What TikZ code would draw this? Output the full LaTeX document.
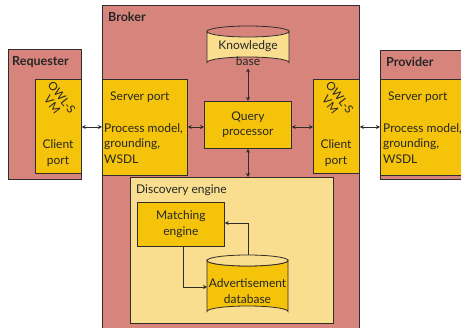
\documentclass[tikz,border=0pt]{standalone}
\usepackage{fontspec}
\setmainfont{Lato}
\usetikzlibrary{arrows.meta,calc}
\definecolor{pinkbg}{RGB}{214,132,124}
\definecolor{ybox}{RGB}{245,196,10}
\definecolor{lyel}{RGB}{248,222,142}
\definecolor{edge}{RGB}{50,45,45}
\tikzset{
  frame/.style={draw=edge, line width=0.8pt, fill=pinkbg, anchor=north west, inner sep=0pt},
  yelbox/.style={draw=edge, line width=0.8pt, fill=ybox, anchor=north west, inner sep=0pt},
  lybox/.style={draw=edge, line width=0.8pt, fill=lyel, anchor=north west, inner sep=0pt},
  hole/.style={draw=none, anchor=north west, inner sep=0pt},
  lbl/.style={font=\fontsize{12}{15.5}\selectfont, text=black!85, inner sep=0pt},
  title/.style={font=\bfseries\fontsize{12.5}{14}\selectfont, text=black!85, anchor=west, inner sep=0pt},
  conn/.style={draw=edge, line width=0.6pt, {Stealth[length=4pt,width=4pt]}-{Stealth[length=4pt,width=4pt]}},
  oneway/.style={draw=edge, line width=0.6pt, -{Stealth[length=4pt,width=4pt]}},
}
\begin{document}
\begin{tikzpicture}[x=1pt,y=-1pt]
\useasboundingbox (0,0) rectangle (461,328);
\fill[white] (0,0) rectangle (461,328);
% frames
\node[frame, minimum width=257, minimum height=330] (broker) at (102,5) {};
\node[frame, minimum width=73, minimum height=130] (req) at (8,49) {};
\node[frame, minimum width=90, minimum height=129] (prov) at (380,50) {};
\node[title] (reqt) at (12,62) {Requester};
\node[title] (brokt) at (108,17) {Broker};
\node[title] (provt) at (386,62) {Provider};
% requester client port
\node[yelbox, minimum width=46, minimum height=94] (rcp) at (35,79) {};
\node[lbl, rotate=-52, align=center, font=\fontsize{11.5}{12}\selectfont] (rowl) at (57,101) {OWL-S\\VM};
\node[lbl, align=center] (rcpt) at (58,153) {Client\\port};
% broker server port
\node[yelbox, minimum width=85, minimum height=96] (bsp) at (102,79) {};
\node[lbl, anchor=west] (bspt) at (110,97) {Server port};
\node[lbl, anchor=north west, align=left] (bspd) at (104,123) {Process model,\\grounding,\\WSDL};
% query processor
\node[yelbox, minimum width=87, minimum height=47] (qp) at (204,101) {};
\node[lbl, align=center] at (qp.center) (qpt) {Query\\processor};
% broker client port
\node[yelbox, minimum width=46, minimum height=94] (bcp) at (313,79) {};
\node[lbl, rotate=-52, align=center, font=\fontsize{11.5}{12}\selectfont] (bowl) at (335,101) {OWL-S\\VM};
\node[lbl, align=center] (bcpt) at (336,153) {Client\\port};
% provider server port
\node[yelbox, minimum width=90, minimum height=96] (psp) at (380,79) {};
\node[lbl, anchor=west] (pspt) at (388,97) {Server port};
\node[lbl, anchor=north west, align=left] (pspd) at (383,123) {Process model,\\grounding,\\WSDL};
% knowledge base cylinder
\node[hole, minimum width=82, minimum height=42] (kb) at (207,26) {};
\path[draw=edge, line width=0.8pt, fill=lyel] (207,31.5) -- (207,62.5) arc[start angle=180,end angle=360,x radius=41,y radius=5.5] -- (289,31.5) arc[start angle=0,end angle=180,x radius=41,y radius=5.5] -- cycle;
\draw[edge, line width=0.8pt] (207,31.5) arc[start angle=180,end angle=360,x radius=41,y radius=5.5];
\node[lbl, align=center] (kbt) at (248,53) {Knowledge\\base};
% discovery engine
\node[lybox, minimum width=203, minimum height=146] (de) at (130,177) {};
\node[lbl, anchor=west] (det) at (136,190) {Discovery engine};
\node[yelbox, minimum width=87, minimum height=44] (me) at (137,202) {};
\node[lbl, align=center] at (me.center) (met) {Matching\\engine};
% advertisement database
\node[hole, minimum width=81, minimum height=62] (adb) at (207,255) {};
\path[draw=edge, line width=0.8pt, fill=ybox] (207,260.5) -- (207,311.5) arc[start angle=180,end angle=360,x radius=40.5,y radius=5.5] -- (288,260.5) arc[start angle=0,end angle=180,x radius=40.5,y radius=5.5] -- cycle;
\draw[edge, line width=0.8pt, fill=lyel] (247.5,260.5) ellipse[x radius=40.5,y radius=5.5];
\node[lbl, align=center] (adbt) at (247.5,291) {Advertisement\\database};
% connectors
\draw[conn] (req.east |- 0,127) -- (bsp.west |- 0,127);
\draw[conn] (bsp.east |- 0,127) -- (qp.west |- 0,127);
\draw[conn] (qp.east |- 0,127) -- (bcp.west |- 0,127);
\draw[conn] (bcp.east |- 0,127) -- (psp.west |- 0,127);
\draw[conn] (kb.south -| 248,0) -- (qp.north -| 248,0);
\draw[conn] (qp.south -| 248,0) -- (de.north -| 248,0);
\draw[oneway] (me.south -| 183,0) -- (183,287) -- (adb.west |- 0,287);
\draw[oneway] (adb.north -| 248,0) -- (248,223) -- (me.east |- 0,223);
\end{tikzpicture}
\end{document}
